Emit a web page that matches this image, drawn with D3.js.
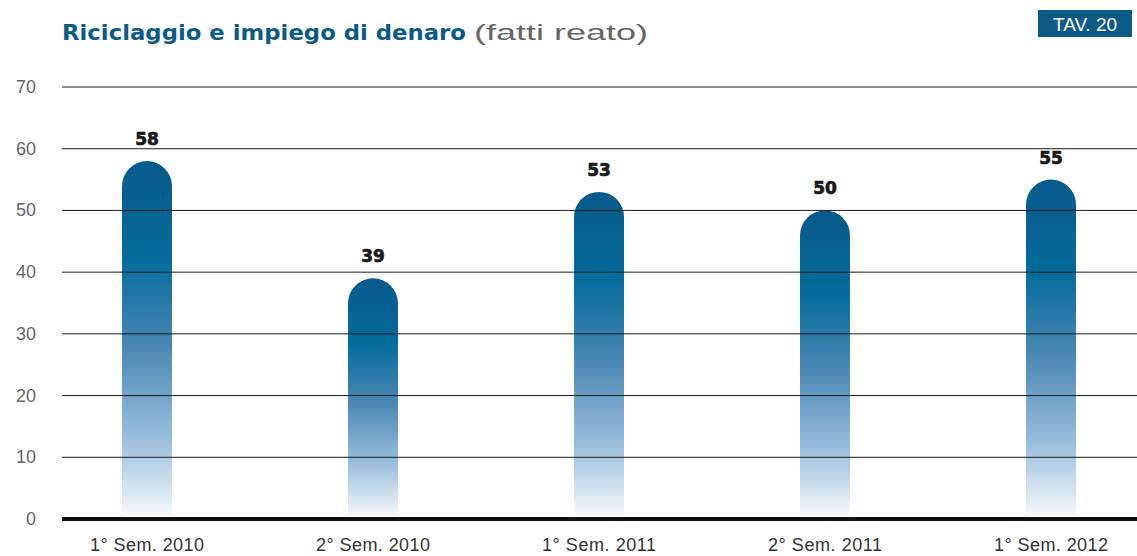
<!DOCTYPE html>
<html>
<head>
<meta charset="utf-8">
<script src="https://cdn.jsdelivr.net/npm/d3@7"></script>
<style>
  body { margin: 0; background: #fff; }
  svg { display: block; }
</style>
</head>
<body>
<div id="chart"></div>
<script>
// data
var categories = ["1° Sem. 2010", "2° Sem. 2010", "1° Sem. 2011", "2° Sem. 2011", "1° Sem. 2012"];
var values = [58, 39, 53, 50, 55];
var yTicks = [0, 10, 20, 30, 40, 50, 60, 70];

var width = 1137, height = 556;
var svg = d3.select("#chart").append("svg")
    .attr("width", width)
    .attr("height", height);

var x = d3.scalePoint().domain(categories).range([147, 1051]);
var y = d3.scaleLinear().domain([0, 70]).range([519, 87]);
var barW = 50;

// each bar gets the same vertical fade, dark at the cap, white at the base
var defs = svg.append("defs");
var grad = defs.append("linearGradient")
    .attr("id", "barGrad")
    .attr("x1", 0).attr("y1", 0)
    .attr("x2", 0).attr("y2", 1);
grad.append("stop").attr("offset", "0%").attr("stop-color", "#07598a");
grad.append("stop").attr("offset", "28%").attr("stop-color", "#066c9c");
grad.append("stop").attr("offset", "52%").attr("stop-color", "#4a87b3");
grad.append("stop").attr("offset", "78%").attr("stop-color", "#98bddb");
grad.append("stop").attr("offset", "100%").attr("stop-color", "#f4f8fb");

// title, stretched to the width the reference's heavy face takes
var title = svg.append("g");
title.append("text")
    .attr("x", 62).attr("y", 40)
    .attr("fill", "#0d5a86")
    .style("font-family", "'DejaVu Sans', sans-serif")
    .style("font-weight", "bold")
    .style("font-size", "22px")
    .attr("textLength", 404)
    .attr("lengthAdjust", "spacingAndGlyphs")
    .text("Riciclaggio e impiego di denaro");
title.append("text")
    .attr("x", 474).attr("y", 40)
    .attr("fill", "#666")
    .style("font-family", "'Liberation Sans', Arial, sans-serif")
    .style("font-size", "22px")
    .attr("textLength", 174)
    .attr("lengthAdjust", "spacingAndGlyphs")
    .text("(fatti reato)");

// TAV box
svg.append("rect")
    .attr("x", 1038).attr("y", 10)
    .attr("width", 94).attr("height", 27)
    .attr("fill", "#0e5a87");
svg.append("text")
    .attr("x", 1085).attr("y", 31)
    .attr("text-anchor", "middle")
    .attr("fill", "#fff")
    .style("font-family", "'Liberation Sans', Arial, sans-serif")
    .style("font-size", "19px")
    .text("TAV. 20");

// bars: flat bottom, rounded top
function barPath(d, i) {
    var cx = x(categories[i]);
    var r = barW / 2;
    var top = y(d);
    var bottom = y(0) - 4;
    return "M" + (cx - r) + "," + bottom +
        "L" + (cx - r) + "," + (top + r) +
        "A" + r + "," + r + " 0 0 1 " + (cx + r) + "," + (top + r) +
        "L" + (cx + r) + "," + bottom + "Z";
}

svg.append("g").selectAll("path")
    .data(values)
    .enter()
    .append("path")
    .attr("d", barPath)
    .attr("fill", "url(#barGrad)");

// gridlines drawn over the bars
var grid = svg.append("g");
grid.selectAll("line")
    .data(yTicks.filter(function(t) { return t > 0; }))
    .enter()
    .append("line")
    .attr("x1", 62).attr("x2", width)
    .attr("y1", function(d) { return y(d); })
    .attr("y2", function(d) { return y(d); })
    .attr("stroke", "#1a1a1a")
    .attr("stroke-width", 1);

svg.append("line")
    .attr("x1", 62).attr("x2", width)
    .attr("y1", y(0)).attr("y2", y(0))
    .attr("stroke", "#111")
    .attr("stroke-width", 4);

// y axis labels
svg.append("g").selectAll("text")
    .data(yTicks)
    .enter()
    .append("text")
    .attr("x", 36)
    .attr("y", function(d) { return y(d) + 6; })
    .attr("text-anchor", "end")
    .attr("fill", "#666")
    .style("font-family", "'Liberation Sans', Arial, sans-serif")
    .style("font-size", "18px")
    .text(function(d) { return d; });

// x labels
svg.append("g").selectAll("text")
    .data(categories)
    .enter()
    .append("text")
    .attr("x", function(d) { return x(d); })
    .attr("y", 551)
    .attr("text-anchor", "middle")
    .attr("fill", "#333")
    .style("font-family", "'Liberation Sans', Arial, sans-serif")
    .style("font-size", "18px")
    .attr("textLength", 114)
    .attr("lengthAdjust", "spacing")
    .text(function(d) { return d; });

// value labels
svg.append("g").selectAll("text")
    .data(values)
    .enter()
    .append("text")
    .attr("x", function(d, i) { return x(categories[i]); })
    .attr("y", function(d) { return y(d) - 16; })
    .attr("text-anchor", "middle")
    .attr("fill", "#1a1a1a")
    .attr("stroke", "#1a1a1a")
    .attr("stroke-width", 0.7)
    .style("font-family", "'DejaVu Sans', sans-serif")
    .style("font-weight", "bold")
    .style("font-size", "17px")
    .text(function(d) { return d; });
</script>
</body>
</html>
